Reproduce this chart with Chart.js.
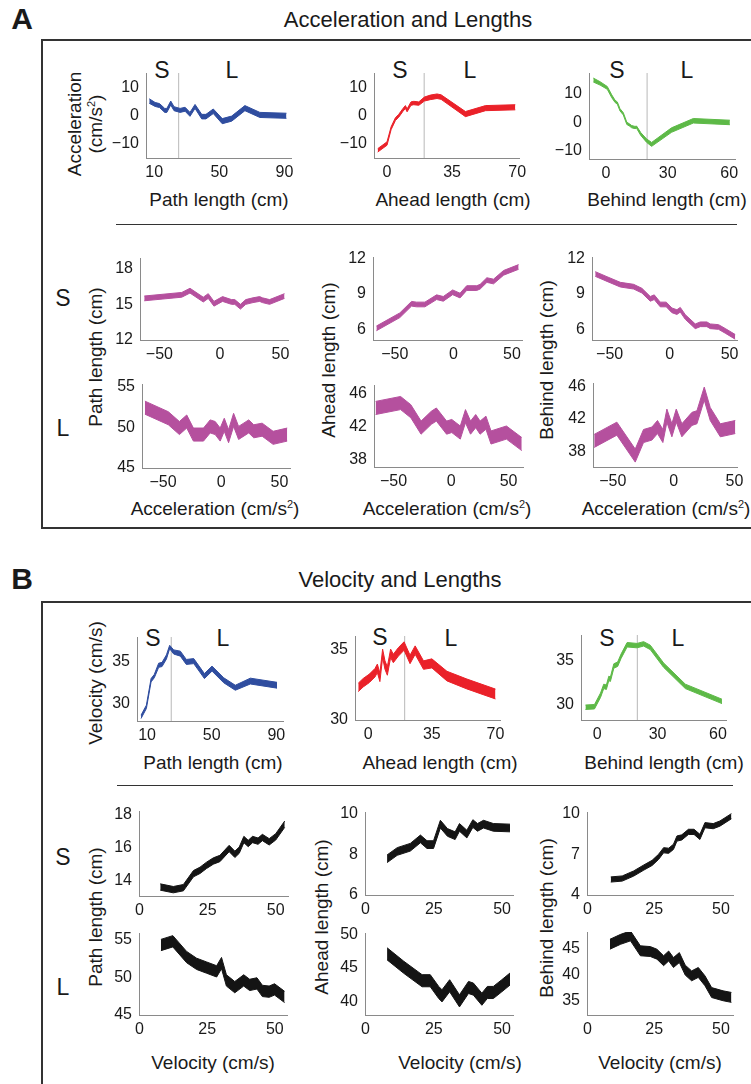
<!DOCTYPE html>
<html>
<head>
<meta charset="utf-8">
<script src="https://cdn.jsdelivr.net/npm/chart.js@4.4.1/dist/chart.umd.min.js"></script>
<style>
body{margin:0;width:751px;height:1084px;overflow:hidden;background:#fff;position:relative;
  font-family:"Liberation Sans",Arial,sans-serif;color:#1a1a1a}
.t{position:absolute;white-space:nowrap;transform:translate(-50%,-50%);z-index:2}
.r{transform:translate(-50%,-50%) rotate(-90deg);text-align:center;line-height:1.12}
.lbl{font-size:19px}
.sl{font-size:23px}
.big{font-size:22px}
.sec{font-size:30px;font-weight:bold}
canvas{position:absolute;z-index:3}
.box{position:absolute;border:2px solid #333}
.sep{position:absolute;height:1px;background:#333}
sup{font-size:11px}
</style>
</head>
<body>
<div class="t sec" style="left:22px;top:19px">A</div>
<div class="t big" style="left:408px;top:20px">Acceleration and Lengths</div>
<div class="box" style="left:41px;top:39px;width:760px;height:486px"></div>
<div class="sep" style="left:116px;top:224px;width:621px"></div>

<div class="t lbl r" style="left:85px;top:124px">Acceleration<br>(cm/s<sup>2</sup>)</div>
<div class="t sl" style="left:162px;top:70px">S</div><div class="t sl" style="left:232px;top:70px">L</div>
<div class="t sl" style="left:400px;top:70px">S</div><div class="t sl" style="left:470px;top:70px">L</div>
<div class="t sl" style="left:617px;top:70px">S</div><div class="t sl" style="left:687px;top:70px">L</div>
<div class="t lbl" style="left:219px;top:200px">Path length (cm)</div>
<div class="t lbl" style="left:453px;top:200px">Ahead length (cm)</div>
<div class="t lbl" style="left:667px;top:200px">Behind length (cm)</div>

<div class="t sl" style="left:63px;top:298px">S</div>
<div class="t sl" style="left:63px;top:428px">L</div>
<div class="t lbl r" style="left:96px;top:357px">Path length (cm)</div>
<div class="t lbl r" style="left:329px;top:360px">Ahead length (cm)</div>
<div class="t lbl r" style="left:547px;top:360px">Behind length (cm)</div>
<div class="t lbl" style="left:215px;top:509px">Acceleration (cm/s<sup>2</sup>)</div>
<div class="t lbl" style="left:447px;top:509px">Acceleration (cm/s<sup>2</sup>)</div>
<div class="t lbl" style="left:666px;top:509px">Acceleration (cm/s<sup>2</sup>)</div>

<div class="t sec" style="left:22px;top:579px">B</div>
<div class="t big" style="left:400px;top:580px">Velocity and Lengths</div>
<div class="box" style="left:41px;top:601px;width:760px;height:600px"></div>
<div class="sep" style="left:117px;top:785px;width:616px"></div>

<div class="t lbl r" style="left:96px;top:683px">Velocity (cm/s)</div>
<div class="t sl" style="left:153px;top:638px">S</div><div class="t sl" style="left:223px;top:638px">L</div>
<div class="t sl" style="left:380px;top:637px">S</div><div class="t sl" style="left:451px;top:638px">L</div>
<div class="t sl" style="left:607px;top:638px">S</div><div class="t sl" style="left:678px;top:638px">L</div>
<div class="t lbl" style="left:213px;top:763px">Path length (cm)</div>
<div class="t lbl" style="left:440px;top:763px">Ahead length (cm)</div>
<div class="t lbl" style="left:664px;top:763px">Behind length (cm)</div>

<div class="t sl" style="left:63px;top:857px">S</div>
<div class="t sl" style="left:63px;top:987px">L</div>
<div class="t lbl r" style="left:96px;top:917px">Path length (cm)</div>
<div class="t lbl r" style="left:322px;top:917px">Ahead length (cm)</div>
<div class="t lbl r" style="left:547px;top:918px">Behind length (cm)</div>
<div class="t lbl" style="left:213px;top:1063px">Velocity (cm/s)</div>
<div class="t lbl" style="left:460px;top:1063px">Velocity (cm/s)</div>
<div class="t lbl" style="left:660px;top:1063px">Velocity (cm/s)</div>

<script>
// S / L boundaries (cm)
const splitPath = 25;
const splitAhead = 20;
const splitBehind = 20;

// tick labels
const pathTicks = [10, 50, 90];
const aheadTicks = [0, 35, 70];
const behindTicks = [0, 30, 60];
const accTicks = [-50, 0, 50];
const velTicks = [0, 25, 50];
const accYTicks = [-10, 0, 10];
const velYTicks = [30, 35];

// A: acceleration vs length (mean +- err)
const accPathX = [7, 10.6, 13.3, 16.5, 17.8, 20.2, 22.2, 25.9, 29, 32, 35.1, 39.2, 41.8, 46.3, 51.8, 57.6, 65.7, 74.9, 91.2];
const accPathY = [5.1, 3.9, 3.5, 1.8, 1.8, 4.4, 2.4, 1.8, 2.2, 0.4, 3.2, -0.4, -0.4, 1.5, -2, -1.1, 2.6, 0.2, -0.1];
const accPathErr = [0.8, 0.7, 0.7, 0.7, 0.7, 0.7, 0.7, 0.7, 0.7, 0.7, 0.7, 0.8, 0.8, 0.8, 0.9, 0.9, 0.9, 0.9, 0.9];

const accAheadX = [-5, 0, 2.2, 4.5, 6.3, 8.6, 9.9, 10.8, 12.9, 14.4, 17.1, 20.1, 23.3, 26.9, 29.1, 42.2, 53, 69];
const accAheadY = [-12.3, -9.9, -4.5, -1.3, -0.1, 2, 3, 1.8, 4.2, 4.4, 4.2, 5.8, 6.4, 6.8, 6.5, 0.5, 2.6, 2.9];
const accAheadErr = [0.6, 0.6, 0.5, 0.5, 0.5, 0.5, 0.5, 0.5, 0.6, 0.6, 0.6, 0.7, 0.8, 0.8, 0.8, 0.9, 0.9, 0.9];

const accBehindX = [-6.2, -2.9, 0.6, 2.8, 4.4, 5.5, 6.8, 8.4, 10.1, 11.4, 12.5, 14.1, 14.9, 16.9, 19.8, 22.2, 31.9, 42.5, 60.3];
const accBehindY = [15, 13.8, 12.2, 9.2, 7.4, 6.8, 4.4, 3, -0.4, -1, -1.6, -1.9, -1.8, -4.2, -6.6, -7.9, -2.8, 0.5, -0.1];
const accBehindErr = [0.7, 0.6, 0.5, 0.5, 0.4, 0.4, 0.4, 0.4, 0.4, 0.4, 0.4, 0.4, 0.4, 0.5, 0.6, 0.7, 0.8, 0.8, 0.8];

// A: lengths vs acceleration
const pathSAccX = [-62.5, -31.5, -24.7, -13.7, -9.6, -4.9, 2.2, 9.6, 12.3, 17, 21.4, 27.4, 32.9, 35.1, 41.1, 53.4];
const pathSAccY = [15.5, 15.8, 16.15, 15.4, 15.7, 15.05, 15.45, 15.2, 15.2, 14.8, 15.2, 15.35, 15.45, 15.35, 15.2, 15.7];
const pathLAccX = [-65.5, -45.4, -35.9, -29.6, -23.9, -15.2, -9.5, -5.2, -0.9, 2.6, 6.3, 10.6, 14.9, 23.6, 27.9, 35.1, 44.5, 56.6];
const pathLAccY = [52.4, 51.1, 49.9, 50.7, 49.1, 49.1, 50.1, 49.9, 49.1, 50.3, 48.9, 50.9, 49.3, 50.1, 49.5, 49.7, 48.7, 49.1];
const aheadSAccX = [-65.7, -45.7, -35.7, -31.4, -24.3, -14.3, -8.6, -0.6, 5.7, 11.4, 20, 22.9, 28.6, 34.3, 42.9, 55.7];
const aheadSAccY = [6.06, 7.18, 8.16, 8.1, 8.1, 8.72, 8.58, 9.14, 8.86, 9.5, 9.5, 9.62, 10.18, 10.06, 10.8, 11.3];
const aheadLAccX = [-65.6, -43.9, -35, -26.1, -17.2, -12.8, -3.9, 0.6, 8, 12.5, 16.9, 21.4, 25.2, 30.3, 34.7, 48.1, 61.4];
const aheadLAccY = [44.3, 44.9, 43.9, 41.9, 43.1, 43.5, 41.9, 42.1, 41.3, 43.3, 41.9, 42.7, 41.9, 42.5, 40.7, 41.3, 39.9];
const behindSAccX = [-62, -52.2, -41.1, -30, -23.1, -16.1, -12.8, -7.8, -2.8, 1.9, 6.1, 8.9, 13.1, 21.4, 25.6, 31.1, 33.9, 40.8, 46.4, 54.7];
const behindSAccY = [10.7, 10.27, 9.79, 9.62, 9.28, 8.58, 8.72, 8.1, 8.1, 7.6, 7.45, 7.65, 7.03, 6.24, 6.41, 6.41, 6.24, 6.18, 5.85, 5.34];
const behindLAccX = [-65.2, -46.6, -31.5, -24.7, -17.8, -13.2, -8.8, -5.5, -1.4, 2.2, 6.8, 15.1, 19.2, 25.2, 30.1, 38.4, 50.7];
const behindLAccY = [39.3, 40.8, 37.5, 39.9, 40.2, 41, 39.9, 42.4, 40.6, 42.4, 40.6, 42, 42.2, 45.1, 42.6, 40.6, 41];

// B: velocity vs length
const velPathX = [6.3, 9.6, 12.5, 14.5, 17.2, 19.3, 22, 24, 26.5, 30.6, 34.3, 38.9, 45.5, 50.2, 57.4, 64.6, 73.9, 90.4];
const velPathY = [28.4, 29.6, 32.8, 33.3, 34.6, 34.7, 35.6, 36.8, 36.2, 36, 35, 35.1, 33.3, 34.2, 32.8, 31.9, 32.7, 32.2];
const velPathErr = [0.2, 0.2, 0.2, 0.2, 0.25, 0.25, 0.25, 0.2, 0.25, 0.3, 0.3, 0.3, 0.3, 0.3, 0.3, 0.3, 0.35, 0.35];

const velAheadX = [-5.5, -2.8, 0.6, 3.7, 5, 6.4, 7.9, 9.2, 10.5, 12.3, 13.8, 16.6, 19.7, 23, 25.8, 30.4, 35, 43.3, 54.3, 70];
const velAheadY = [32.31, 32.64, 32.95, 33.35, 33.66, 33.02, 34.72, 33.89, 33.47, 34.72, 34.36, 34.83, 35.24, 34.29, 34.95, 33.89, 34.01, 33.11, 32.55, 31.84];
const velAheadErr = [0.3, 0.3, 0.3, 0.3, 0.3, 0.3, 0.3, 0.3, 0.3, 0.3, 0.3, 0.3, 0.3, 0.3, 0.3, 0.3, 0.32, 0.34, 0.35, 0.35];

const velBehindX = [-5.8, -1.3, 1.7, 3.3, 4.6, 5.8, 6.6, 8.3, 10.2, 11.9, 14.9, 19.8, 23.1, 26.4, 33, 43.8, 62];
const velBehindY = [29.74, 29.8, 31.1, 32.1, 32, 33, 32.9, 34.4, 34.6, 35.5, 36.8, 36.7, 36.9, 36.5, 34.5, 32.1, 30.4];
const velBehindErr = [0.25, 0.25, 0.25, 0.25, 0.25, 0.25, 0.25, 0.25, 0.25, 0.25, 0.25, 0.25, 0.25, 0.25, 0.25, 0.25, 0.25];

// B: lengths vs velocity
const pathSVelX = [7.6, 12.4, 16.1, 19.8, 22.2, 24.6, 27.1, 29.5, 32.9, 35, 36.6, 38.3, 39.9, 41.5, 43.5, 45.1, 47.6, 50, 53.3];
const pathSVelY = [13.64, 13.48, 13.6, 14.44, 14.64, 14.94, 15.2, 15.35, 15.95, 15.6, 15.85, 16.49, 16.25, 16.49, 16.39, 16.61, 16.35, 16.65, 17.41];
const pathLVelX = [7.9, 12.3, 17.4, 21.1, 24.8, 28.5, 30.3, 32.1, 35.2, 38.5, 40.7, 43.4, 45.4, 47.9, 49.9, 53.6];
const pathLVelY = [54.3, 54.8, 52.7, 51.8, 51.3, 50.8, 51.9, 49.6, 48.7, 49.6, 49, 49.2, 48.2, 48.1, 48.4, 47.4];
const aheadSVelX = [7.9, 11.6, 16.4, 20.1, 22.5, 24.9, 27.4, 30, 32.8, 34.4, 37.1, 39.3, 41, 43.2, 46.8, 52.9];
const aheadSVelY = [7.79, 8.15, 8.36, 8.77, 8.49, 8.49, 9.5, 9.09, 8.93, 9.34, 9.01, 9.53, 9.34, 9.5, 9.34, 9.31];
const aheadLVelX = [7.9, 14, 20.7, 23.7, 26.8, 28, 30.8, 34.4, 37.7, 39.5, 42.6, 44.6, 46.8, 49.9, 52.9];
const aheadLVelY = [47.1, 45.1, 43.1, 43.1, 41.35, 40.85, 42.35, 40.1, 42.1, 41.85, 40.35, 41.35, 41.35, 42.35, 43.35];
const behindSVelX = [8.7, 13, 17.3, 21.1, 24.2, 26.6, 28.5, 30.4, 32.2, 33.5, 35.3, 37.8, 39.9, 42.1, 44, 47.1, 49.6, 53.9];
const behindSVelY = [5.14, 5.21, 5.58, 6.02, 6.36, 6.8, 7.29, 7.25, 7.54, 8.15, 8.23, 8.64, 8.64, 8.27, 9.13, 9.06, 9.25, 9.79];
const behindLVelX = [8.4, 12.4, 16.1, 19.8, 23.5, 26, 28.5, 30.4, 32.2, 34.4, 36.6, 39, 41.5, 44, 46.5, 50.8, 53.9];
const behindLVelY = [45.86, 46.8, 47.45, 44.6, 44.46, 43.95, 42.7, 43.6, 42.35, 43.3, 40.9, 39.8, 40.45, 38.85, 36.6, 35.98, 35.67];

// half widths of the S / L bands
const errAccS = 0.2, errAccL = 0.8, errVelS = 0.19, errVelLPath = 0.75, errVelLAhead = 0.9, errVelLBehind = 0.95;

const BLUE = "#2f4d9f", RED = "#ea2129", GREEN = "#5db947", MAG = "#b5509e", BLK = "#141414";

const padL = 40, padT = 20, padR = 18, padB = 26;

function fmt(v) { return v < 0 ? "\u2212" + Math.abs(v) : String(v); }
function same(n, v) { return new Array(n).fill(v); }

function panel(rect, xr, yr, xt, yt, xs, ys, es, color, split) {
  const [left, top, w, h] = rect;
  const c = document.createElement("canvas");
  c.width = w + padL + padR;
  c.height = h + padT + padB;
  c.style.left = (left - padL) + "px";
  c.style.top = (top - padT) + "px";
  document.body.appendChild(c);

  const upper = xs.map((x, i) => ({ x: x, y: ys[i] + es[i] }));
  const lower = xs.map((x, i) => ({ x: x, y: ys[i] - es[i] }));
  const datasets = [
    { data: upper, borderColor: color, backgroundColor: color, borderWidth: 1, pointRadius: 0, fill: false, order: 0 },
    { data: lower, borderColor: color, backgroundColor: color, borderWidth: 1, pointRadius: 0, fill: "-1", order: 0 }
  ];
  if (split !== undefined) {
    datasets.push({ data: [{ x: split, y: yr[0] }, { x: split, y: yr[1] }], borderColor: "#c4c4c4",
      borderWidth: 1.2, pointRadius: 0, fill: false, order: 5 });
  }
  const tickFont = { family: "'Liberation Sans', Arial, sans-serif", size: 16 };
  new Chart(c, {
    type: "line",
    data: { datasets: datasets },
    options: {
      responsive: false,
      animation: false,
      devicePixelRatio: 1,
      layout: { padding: { left: 0, top: padT, right: padR, bottom: 0 } },
      plugins: { legend: { display: false }, tooltip: { enabled: false } },
      scales: {
        x: {
          type: "linear", min: xr[0], max: xr[1],
          afterBuildTicks: s => { s.ticks = xt.map(v => ({ value: v })); },
          afterFit: s => { s.height = padB; },
          grid: { display: false, drawTicks: false },
          border: { color: "#8a8a8a", width: 1 },
          ticks: { font: tickFont, color: "#1a1a1a", padding: 5, autoSkip: false, maxRotation: 0, callback: fmt }
        },
        y: {
          type: "linear", min: yr[0], max: yr[1],
          afterBuildTicks: s => { s.ticks = yt.map(v => ({ value: v })); },
          afterFit: s => { s.width = padL; },
          grid: { display: false, drawTicks: false },
          border: { color: "#8a8a8a", width: 1 },
          ticks: { font: tickFont, color: "#1a1a1a", padding: 7, autoSkip: false, callback: fmt }
        }
      }
    }
  });
}

// A top row
panel([146, 73, 145, 85], [5, 94], [-15, 15], pathTicks, accYTicks, accPathX, accPathY, accPathErr, BLUE, splitPath);
panel([374, 73, 145, 85], [-7, 71], [-15, 15], aheadTicks, accYTicks, accAheadX, accAheadY, accAheadErr, RED, splitAhead);
panel([589, 73, 146, 86], [-8.3, 62.8], [-13.1, 17.5], behindTicks, accYTicks, accBehindX, accBehindY, accBehindErr, GREEN, splitBehind);
// A S row
panel([140, 258, 148, 82], [-66, 56.3], [12, 18.9], accTicks, [12, 15, 18], pathSAccX, pathSAccY, same(pathSAccX.length, errAccS), MAG);
panel([373, 257, 149, 83], [-68.6, 58.6], [5.07, 12.15], accTicks, [6, 9, 12], aheadSAccX, aheadSAccY, same(aheadSAccX.length, errAccS), MAG);
panel([592, 257, 145, 83], [-64.7, 56.2], [5.07, 12.15], accTicks, [6, 9, 12], behindSAccX, behindSAccY, same(behindSAccX.length, errAccS), MAG);
// A L row
panel([142, 384, 148, 84], [-68, 59], [45, 55.3], accTicks, [45, 50, 55], pathLAccX, pathLAccY, same(pathLAccX.length, errAccL), MAG);
panel([374, 385, 149, 82], [-67, 62.5], [37.1, 47.1], accTicks, [38, 42, 46], aheadLAccX, aheadLAccY, same(aheadLAccX.length, errAccL), MAG);
panel([593, 383, 144, 84], [-66.2, 52.1], [36.1, 46.4], accTicks, [38, 42, 46], behindLAccX, behindLAccY, same(behindLAccX.length, errAccL), MAG);

// B top row
panel([137, 637, 146, 84], [3.8, 94.1], [27.9, 38], pathTicks, velYTicks, velPathX, velPathY, velPathErr, BLUE, splitPath);
panel([355, 636, 145, 84], [-7.3, 72.5], [30, 35.95], aheadTicks, velYTicks, velAheadX, velAheadY, velAheadErr, RED, splitAhead);
panel([581, 635, 145, 85], [-8, 64], [28.3, 37.9], behindTicks, velYTicks, velBehindX, velBehindY, velBehindErr, GREEN, splitBehind);
// B S row
panel([139, 811, 149, 85], [-0.2, 54.5], [13.1, 18.2], velTicks, [14, 16, 18], pathSVelX, pathSVelY, same(pathSVelX.length, errVelS), BLK);
panel([365, 812, 148, 83], [-0.2, 54], [6, 10.1], velTicks, [6, 8, 10], aheadSVelX, aheadSVelY, same(aheadSVelX.length, errVelS), BLK);
panel([587, 812, 146, 83], [-0.2, 54.5], [4, 10.1], velTicks, [4, 7, 10], behindSVelX, behindSVelY, same(behindSVelX.length, errVelS), BLK);
// B L row
panel([139, 933, 148, 82], [-0.2, 54.5], [45, 55.9], velTicks, [45, 50, 55], pathLVelX, pathLVelY, same(pathLVelX.length, errVelLPath), BLK);
panel([365, 933, 148, 82], [-0.2, 54], [38, 50.2], velTicks, [40, 45, 50], aheadLVelX, aheadLVelY, same(aheadLVelX.length, errVelLAhead), BLK);
panel([587, 932, 146, 83], [-0.2, 54.5], [32.3, 48.2], velTicks, [35, 40, 45], behindLVelX, behindLVelY, same(behindLVelX.length, errVelLBehind), BLK);
</script>
</body>
</html>
